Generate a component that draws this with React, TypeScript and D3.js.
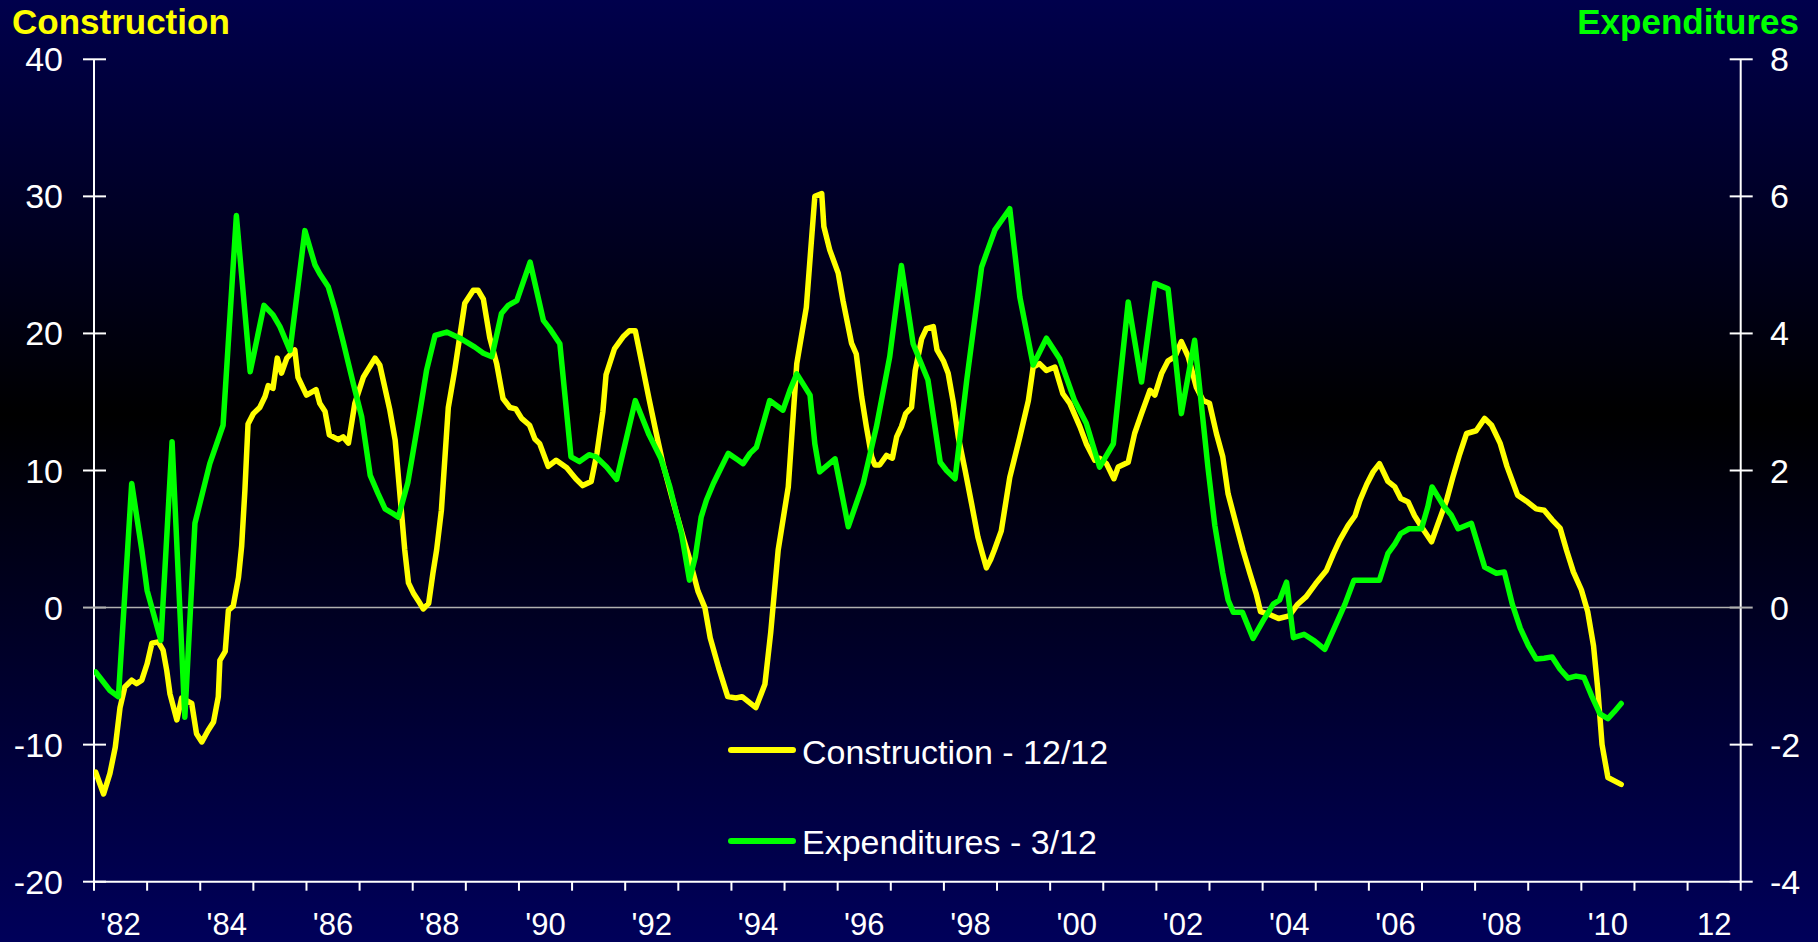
import React from "react";
import * as d3 from "d3";

// Construction - 12/12 (left axis, %), decimal year / value
const constructionYears = [
  1982.03, 1982.18, 1982.3, 1982.4, 1982.49, 1982.58, 1982.71, 1982.8, 1982.9, 1983.0,
  1983.09, 1983.21, 1983.3, 1983.37, 1983.43, 1983.56, 1983.65, 1983.84, 1983.93, 1984.03,
  1984.15, 1984.25, 1984.34, 1984.37, 1984.47, 1984.53, 1984.62, 1984.72, 1984.78, 1984.84,
  1984.9, 1985.0, 1985.12, 1985.22, 1985.28, 1985.37, 1985.45, 1985.53, 1985.63, 1985.78,
  1985.84, 1986.0, 1986.18, 1986.25, 1986.35, 1986.43, 1986.6, 1986.69, 1986.79, 1986.91,
  1987.07, 1987.29, 1987.38, 1987.57, 1987.67, 1987.79, 1987.85, 1987.92, 1988.02, 1988.12,
  1988.2, 1988.3, 1988.38, 1988.45, 1988.54, 1988.67, 1988.79, 1988.98, 1989.14, 1989.23,
  1989.33, 1989.45, 1989.58, 1989.7, 1989.83, 1989.94, 1990.05, 1990.2, 1990.3, 1990.39,
  1990.55, 1990.7, 1990.9, 1991.07, 1991.2, 1991.36, 1991.47, 1991.58, 1991.64, 1991.8,
  1991.97, 1992.08, 1992.19, 1992.3, 1992.45, 1992.58, 1992.71, 1992.89, 1993.1, 1993.2,
  1993.37, 1993.5, 1993.6, 1993.76, 1993.93, 1994.09, 1994.2, 1994.33, 1994.46, 1994.63,
  1994.74, 1994.88, 1995.07, 1995.23, 1995.41, 1995.57, 1995.7, 1995.74, 1995.85, 1996.01,
  1996.1, 1996.26, 1996.35, 1996.45, 1996.54, 1996.64, 1996.7, 1996.79, 1996.92, 1997.03,
  1997.11, 1997.2, 1997.28, 1997.39, 1997.46, 1997.58, 1997.67, 1997.8, 1997.87, 1997.99,
  1998.08, 1998.18, 1998.27, 1998.4, 1998.52, 1998.64, 1998.72, 1998.8, 1998.88, 1998.95,
  1999.08, 1999.24, 1999.43, 1999.59, 1999.68, 1999.8, 1999.93, 2000.09, 2000.24, 2000.37,
  2000.56, 2000.68, 2000.84, 2000.93, 2001.06, 2001.2, 2001.28, 2001.47, 2001.59, 2001.72,
  2001.88, 2001.97, 2002.1, 2002.22, 2002.35, 2002.47, 2002.6, 2002.75, 2002.88, 2003.0,
  2003.13, 2003.25, 2003.35, 2003.5, 2003.63, 2003.76, 2003.88, 2003.96, 2004.13, 2004.3,
  2004.5, 2004.65, 2004.82, 2005.0, 2005.2, 2005.33, 2005.45, 2005.61, 2005.74, 2005.83,
  2005.96, 2006.08, 2006.2, 2006.36, 2006.49, 2006.6, 2006.74, 2006.86, 2006.99, 2007.18,
  2007.3, 2007.46, 2007.58, 2007.71, 2007.84, 2008.02, 2008.18, 2008.31, 2008.47, 2008.6,
  2008.8, 2008.99, 2009.15, 2009.3, 2009.45, 2009.6, 2009.72, 2009.85, 2010.0, 2010.12,
  2010.23, 2010.31, 2010.39, 2010.5, 2010.75,
];
const constructionValues = [
  -12.0, -13.6, -12.1, -10.2, -7.3, -5.8, -5.3, -5.55, -5.3, -4.1,
  -2.6, -2.5, -3.1, -4.6, -6.3, -8.2, -6.6, -7.0, -9.2, -9.8,
  -8.95, -8.35, -6.5, -3.85, -3.2, -0.2, 0.1, 2.2, 4.5, 8.5,
  13.4, 14.15, 14.6, 15.4, 16.2, 16.0, 18.2, 17.1, 18.2, 18.8,
  16.8, 15.5, 15.9, 14.9, 14.3, 12.6, 12.25, 12.45, 12.0, 14.9,
  16.8, 18.2, 17.7, 14.4, 12.2, 6.9, 4.2, 1.8, 1.0, 0.4,
  -0.1, 0.3, 2.5, 4.2, 7.1, 14.6, 17.3, 22.2, 23.15, 23.15,
  22.5, 19.7, 17.8, 15.25, 14.6, 14.5, 13.8, 13.3, 12.3, 11.96,
  10.3, 10.75, 10.2, 9.4, 8.9, 9.2, 11.3, 14.3, 17.0, 18.9,
  19.8, 20.2, 20.2, 18.1, 15.2, 12.8, 10.5, 7.9, 5.0, 3.7,
  1.2, 0.0, -2.2, -4.4, -6.5, -6.6, -6.5, -6.9, -7.3, -5.6,
  -1.8, 4.2, 8.8, 17.8, 21.9, 30.0, 30.2, 27.8, 26.1, 24.4,
  22.4, 19.3, 18.5, 15.4, 13.2, 11.0, 10.4, 10.4, 11.1, 10.9,
  12.45, 13.2, 14.15, 14.6, 17.3, 19.6, 20.35, 20.5, 18.8, 18.0,
  17.1, 14.9, 12.45, 10.0, 7.6, 5.15, 4.0, 2.9, 3.5, 4.2,
  5.6, 9.5, 12.45, 15.1, 17.55, 17.8, 17.3, 17.55, 15.6, 14.9,
  13.2, 11.96, 10.75, 10.9, 10.5, 9.4, 10.25, 10.6, 12.7, 14.15,
  15.85, 15.5, 17.1, 18.0, 18.3, 19.4, 18.3, 16.1, 15.1, 14.9,
  12.7, 11.0, 8.3, 6.1, 4.2, 2.5, 1.0, -0.3, -0.5, -0.8,
  -0.6, 0.2, 0.8, 1.75, 2.7, 3.9, 4.9, 6.0, 6.7, 7.8,
  9.0, 9.9, 10.5, 9.2, 8.8, 7.95, 7.7, 6.7, 5.9, 4.8,
  6.1, 7.8, 9.5, 11.2, 12.7, 12.9, 13.8, 13.3, 12.0, 10.3,
  8.2, 7.7, 7.2, 7.1, 6.4, 5.8, 4.2, 2.6, 1.3, -0.3,
  -2.8, -6.0, -10.0, -12.4, -12.9,
];

// Expenditures - 3/12 (right axis, %), decimal year / value
const expenditureYears = [
  1982.03, 1982.18, 1982.3, 1982.46, 1982.71, 1982.9, 1983.0, 1983.26, 1983.47, 1983.71,
  1983.9, 1984.18, 1984.43, 1984.68, 1984.94, 1985.2, 1985.37, 1985.5, 1985.69, 1985.97,
  1986.16, 1986.25, 1986.41, 1986.54, 1986.69, 1986.88, 1987.04, 1987.2, 1987.35, 1987.48,
  1987.63, 1987.73, 1987.91, 1988.14, 1988.26, 1988.42, 1988.64, 1988.89, 1989.17, 1989.33,
  1989.49, 1989.67, 1989.8, 1989.96, 1990.21, 1990.46, 1990.58, 1990.77, 1990.98, 1991.14,
  1991.32, 1991.45, 1991.65, 1991.84, 1992.19, 1992.45, 1992.67, 1992.84, 1993.06, 1993.21,
  1993.32, 1993.43, 1993.53, 1993.66, 1993.78, 1993.94, 1994.13, 1994.22, 1994.35, 1994.47,
  1994.6, 1994.72, 1994.97, 1995.1, 1995.23, 1995.48, 1995.57, 1995.66, 1995.95, 1996.2,
  1996.48, 1996.73, 1996.98, 1997.2, 1997.42, 1997.7, 1997.93, 1998.05, 1998.21, 1998.43,
  1998.71, 1998.96, 1999.24, 1999.43, 1999.68, 1999.93, 2000.18, 2000.46, 2000.68, 2000.93,
  2001.19, 2001.47, 2001.72, 2001.97, 2002.22, 2002.47, 2002.72, 2002.97, 2003.1, 2003.25,
  2003.35, 2003.45, 2003.62, 2003.82, 2004.01, 2004.2, 2004.32, 2004.45, 2004.58, 2004.78,
  2004.98, 2005.17, 2005.35, 2005.55, 2005.72, 2005.96, 2006.2, 2006.36, 2006.49, 2006.6,
  2006.76, 2006.99, 2007.11, 2007.19, 2007.4, 2007.55, 2007.68, 2007.93, 2008.18, 2008.4,
  2008.55, 2008.7, 2008.85, 2009.0, 2009.15, 2009.3, 2009.45, 2009.6, 2009.75, 2009.9,
  2010.05, 2010.2, 2010.35, 2010.5, 2010.62, 2010.75,
];
const expenditureValues = [
  -0.94, -1.09, -1.21, -1.3, 1.81, 0.84, 0.25, -0.48, 2.42, -1.6,
  1.23, 2.1, 2.66, 5.72, 3.44, 4.41, 4.27, 4.1, 3.75, 5.5,
  5.0, 4.87, 4.68, 4.34, 3.88, 3.27, 2.78, 1.93, 1.66, 1.44,
  1.37, 1.32, 1.83, 2.88, 3.46, 3.97, 4.02, 3.93, 3.8, 3.71,
  3.66, 4.29, 4.41, 4.48, 5.04, 4.19, 4.07, 3.85, 2.2, 2.13,
  2.23, 2.2, 2.05, 1.87, 3.02, 2.52, 2.18, 1.76, 1.08, 0.4,
  0.74, 1.32, 1.57, 1.81, 2.0, 2.25, 2.15, 2.1, 2.25, 2.34,
  2.69, 3.02, 2.88, 3.17, 3.41, 3.1, 2.39, 1.98, 2.17, 1.18,
  1.81, 2.64, 3.66, 4.99, 3.85, 3.32, 2.12, 2.0, 1.88, 3.32,
  4.97, 5.51, 5.82, 4.53, 3.54, 3.93, 3.63, 3.02, 2.69, 2.05,
  2.39, 4.46, 3.29, 4.73, 4.65, 2.83, 3.9, 2.05, 1.2, 0.5,
  0.11, -0.07, -0.07, -0.45, -0.19, 0.05, 0.11, 0.37, -0.44, -0.39,
  -0.49, -0.61, -0.3, 0.05, 0.4, 0.4, 0.4, 0.79, 0.93, 1.08,
  1.15, 1.15, 1.47, 1.76, 1.49, 1.35, 1.15, 1.23, 0.59, 0.5,
  0.52, 0.05, -0.3, -0.55, -0.75, -0.74, -0.72, -0.9, -1.03, -1.0,
  -1.02, -1.3, -1.55, -1.62, -1.52, -1.4,
];

const leftTicks = [-20, -10, 0, 10, 20, 30, 40];
const rightTicks = [-4, -2, 0, 2, 4, 6, 8];
const yearTicks = d3.range(1982, 2014);
const yearLabels = [
  { year: 1982, label: "'82" }, { year: 1984, label: "'84" }, { year: 1986, label: "'86" },
  { year: 1988, label: "'88" }, { year: 1990, label: "'90" }, { year: 1992, label: "'92" },
  { year: 1994, label: "'94" }, { year: 1996, label: "'96" }, { year: 1998, label: "'98" },
  { year: 2000, label: "'00" }, { year: 2002, label: "'02" }, { year: 2004, label: "'04" },
  { year: 2006, label: "'06" }, { year: 2008, label: "'08" }, { year: 2010, label: "'10" },
  { year: 2012, label: "12" },
];

const W = 1818;
const H = 942;
const LEFT = 94;
const RIGHT = 1740.7;
const TOP = 59.3;
const BOTTOM = 881.7;
const FONT = "'Liberation Sans', Arial, Helvetica, sans-serif";
const YELLOW = "#FFFF00";
const GREEN = "#00FF00";

export default function App() {
  const x = d3.scaleLinear().domain([1982, 2013]).range([LEFT, RIGHT]);
  const yL = d3.scaleLinear().domain([-20, 40]).range([BOTTOM, TOP]);
  const yR = d3.scaleLinear().domain([-4, 8]).range([BOTTOM, TOP]);

  const constructionData = constructionYears.map((t, i) => [t, constructionValues[i]] as [number, number]);
  const expenditureData = expenditureYears.map((t, i) => [t, expenditureValues[i]] as [number, number]);

  const lineL = d3.line<[number, number]>().x((d) => x(d[0])).y((d) => yL(d[1]));
  const lineR = d3.line<[number, number]>().x((d) => x(d[0])).y((d) => yR(d[1]));

  return (
    <svg
      width={W}
      height={H}
      style={{ position: "absolute", left: 0, top: 0, display: "block" }}
      fontFamily={FONT}
    >
      <defs>
        <linearGradient id="bg" x1="0" y1="0" x2="0" y2="1">
          <stop offset="0" stopColor="#00004c" />
          <stop offset="0.44" stopColor="#000000" />
          <stop offset="1" stopColor="#00005a" />
        </linearGradient>
        <clipPath id="plot">
          <rect x={LEFT} y={TOP - 10} width={RIGHT - LEFT} height={BOTTOM - TOP + 10} />
        </clipPath>
      </defs>
      <rect x={0} y={0} width={W} height={H} fill="url(#bg)" />

      {/* zero line */}
      <line x1={LEFT} x2={RIGHT} y1={yL(0)} y2={yL(0)} stroke="#b0b0b0" strokeWidth={1.5} />

      {/* axes */}
      <line x1={LEFT} x2={LEFT} y1={TOP} y2={BOTTOM} stroke="#ffffff" strokeWidth={2} />
      <line x1={RIGHT} x2={RIGHT} y1={TOP} y2={BOTTOM} stroke="#ffffff" strokeWidth={2} />
      <line x1={LEFT} x2={RIGHT} y1={BOTTOM} y2={BOTTOM} stroke="#ffffff" strokeWidth={2} />

      {leftTicks.map((v) => (
        <g key={"l" + v}>
          <line x1={LEFT - 11} x2={LEFT + 12} y1={yL(v)} y2={yL(v)} stroke={v === 0 ? "#b0b0b0" : "#ffffff"} strokeWidth={2} />
          <text x={63} y={yL(v) + 12} textAnchor="end" fill="#ffffff" fontSize={34}>
            {v}
          </text>
        </g>
      ))}
      {rightTicks.map((v) => (
        <g key={"r" + v}>
          <line x1={RIGHT - 11} x2={RIGHT + 12} y1={yR(v)} y2={yR(v)} stroke={v === 0 ? "#b0b0b0" : "#ffffff"} strokeWidth={2} />
          <text x={1770} y={yR(v) + 12} textAnchor="start" fill="#ffffff" fontSize={34}>
            {v}
          </text>
        </g>
      ))}
      {yearTicks.map((t) => (
        <line key={"t" + t} x1={x(t)} x2={x(t)} y1={BOTTOM} y2={BOTTOM + 9} stroke="#ffffff" strokeWidth={2} />
      ))}
      {yearLabels.map((d) => (
        <text key={"x" + d.year} x={x(d.year + 0.5)} y={935} textAnchor="middle" fill="#ffffff" fontSize={31}>
          {d.label}
        </text>
      ))}

      {/* series */}
      <g clipPath="url(#plot)">
        <path d={lineL(constructionData) || ""} fill="none" stroke={YELLOW} strokeWidth={5.5} strokeLinejoin="round" strokeLinecap="round" />
        <path d={lineR(expenditureData) || ""} fill="none" stroke={GREEN} strokeWidth={5.5} strokeLinejoin="round" strokeLinecap="round" />
      </g>

      {/* titles */}
      <text x={12} y={34} fill={YELLOW} fontSize={35} fontWeight="bold">
        Construction
      </text>
      <text x={1799} y={34} fill={GREEN} fontSize={35} fontWeight="bold" textAnchor="end">
        Expenditures
      </text>

      {/* legend */}
      <line x1={731} x2={793} y1={750} y2={750} stroke={YELLOW} strokeWidth={6} strokeLinecap="round" />
      <text x={802} y={764} fill="#ffffff" fontSize={34}>
        Construction - 12/12
      </text>
      <line x1={731} x2={793} y1={841} y2={841} stroke={GREEN} strokeWidth={6} strokeLinecap="round" />
      <text x={802} y={854} fill="#ffffff" fontSize={34}>
        Expenditures - 3/12
      </text>
    </svg>
  );
}
